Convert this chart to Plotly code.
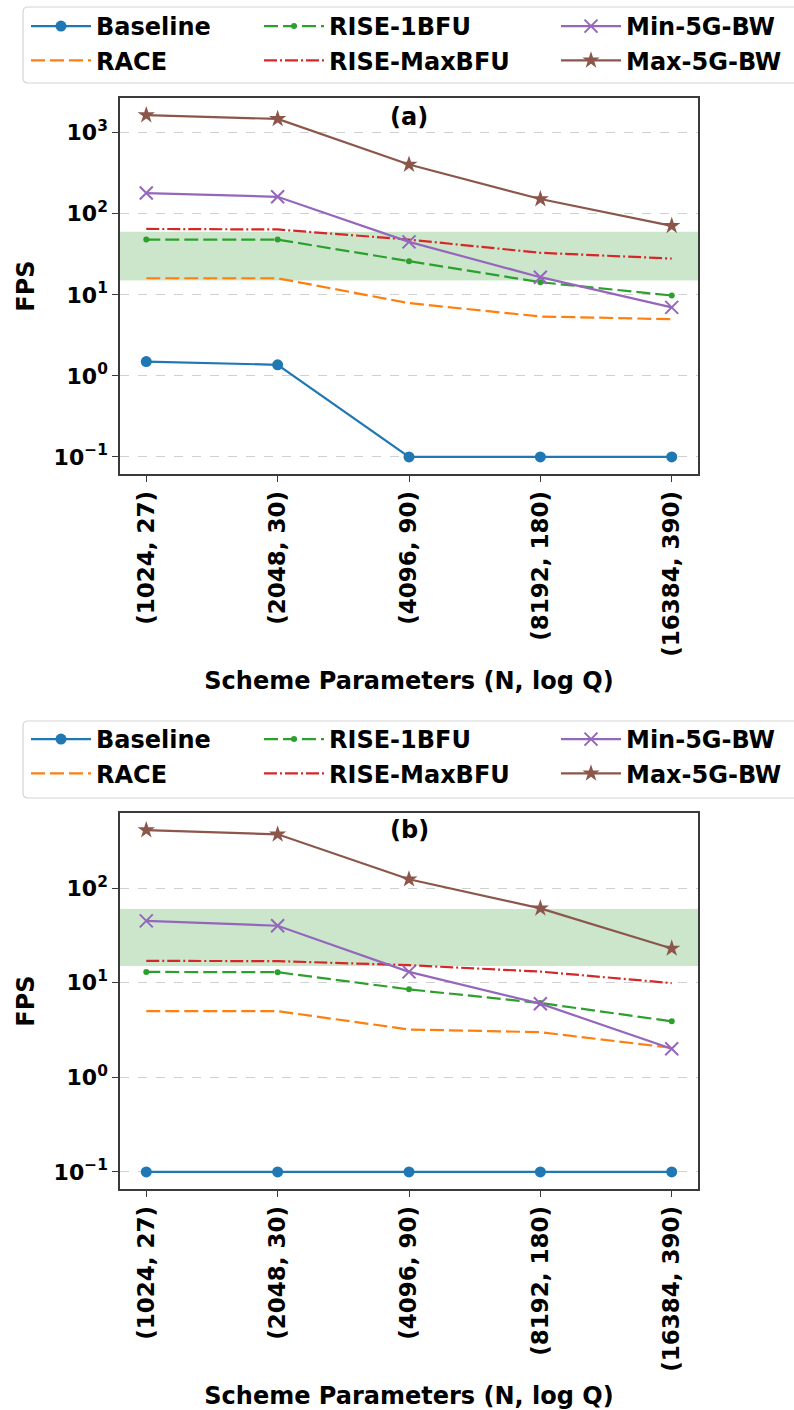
import numpy as np
import plotly.graph_objects as go

# ---- data -------------------------------------------------------------
params = ["(1024, 27)", "(2048, 30)", "(4096, 90)", "(8192, 180)", "(16384, 390)"]
series_names = ["Baseline", "RACE", "RISE-1BFU", "RISE-MaxBFU", "Min-5G-BW", "Max-5G-BW"]

# panel (a)
a_baseline = [1.5, 1.37, 0.1, 0.1, 0.1]
a_race = [16, 16, 7.9, 5.4, 5.0]
a_rise_1bfu = [48, 48, 26, 14.3, 9.8]
a_rise_maxbfu = [65, 64, 48, 33, 28]
a_min_5g = [180, 162, 45, 16.5, 7.0]
a_max_5g = [1650, 1480, 405, 152, 71]

# panel (b)
b_baseline = [0.1, 0.1, 0.1, 0.1, 0.1]
b_race = [5.0, 5.0, 3.2, 3.0, 2.05]
b_rise_1bfu = [13, 12.9, 8.5, 6.1, 3.9]
b_rise_maxbfu = [17, 16.9, 15.3, 13.1, 9.9]
b_min_5g = [45, 40, 13, 6.0, 2.0]
b_max_5g = [410, 370, 124, 61, 23]

# real-time FPS band
band_lo, band_hi = 15, 60

panels = [
    dict(tag="(a)", values=[a_baseline, a_race, a_rise_1bfu, a_rise_maxbfu, a_min_5g, a_max_5g]),
    dict(tag="(b)", values=[b_baseline, b_race, b_rise_1bfu, b_rise_maxbfu, b_min_5g, b_max_5g]),
]

# ---- styling ----------------------------------------------------------
W, H = 794, 1410
FONT = "DejaVu Sans"


def fx(px):
    return px / W


def fy(py):
    return 1 - py / H


styles = {
    "Baseline": dict(color="#1f77b4", dash="solid", symbol="circle", size=11),
    "RACE": dict(color="#ff7f0e", dash="14px,5px", symbol=None, size=0),
    "RISE-1BFU": dict(color="#2ca02c", dash="14px,5px", symbol="circle", size=6),
    "RISE-MaxBFU": dict(color="#d62728", dash="13px,3px,2px,3px", symbol=None, size=0),
    "Min-5G-BW": dict(color="#9467bd", dash="solid", symbol="x-thin", size=13),
    "Max-5G-BW": dict(color="#8c564b", dash="solid", symbol="star", size=13),
}

# legend column for each series (three columns of two)
legend_col = {"Baseline": 0, "RACE": 0, "RISE-1BFU": 1, "RISE-MaxBFU": 1,
              "Min-5G-BW": 2, "Max-5G-BW": 2}
legend_col_x = [26, 259, 556]

# pixel boxes of each panel: (top, bottom); shared left/right
ax_left, ax_right = 120, 698
panel_box = [(98, 474), (813, 1189)]
legend_top = [4, 717]
legend_frame = [(7, 83), (721, 798)]
title_y = [117, 830]

fig = go.Figure()
layout = dict(
    width=W, height=H,
    margin=dict(l=0, r=0, t=0, b=0),
    template="none",
    paper_bgcolor="white", plot_bgcolor="white",
    font=dict(family=FONT, color="black"),
    showlegend=True,
)

shapes = []
annotations = []


def rounded_rect(x0, y0, x1, y1, r):
    # closed path in paper units built from pixel corners
    p = [
        f"M {fx(x0 + r)},{fy(y0)}",
        f"L {fx(x1 - r)},{fy(y0)}",
        f"Q {fx(x1)},{fy(y0)} {fx(x1)},{fy(y0 + r)}",
        f"L {fx(x1)},{fy(y1 - r)}",
        f"Q {fx(x1)},{fy(y1)} {fx(x1 - r)},{fy(y1)}",
        f"L {fx(x0 + r)},{fy(y1)}",
        f"Q {fx(x0)},{fy(y1)} {fx(x0)},{fy(y1 - r)}",
        f"L {fx(x0)},{fy(y0 + r)}",
        f"Q {fx(x0)},{fy(y0)} {fx(x0 + r)},{fy(y0)}",
        "Z",
    ]
    return " ".join(p)


for pi, panel in enumerate(panels):
    sfx = "" if pi == 0 else str(pi + 1)
    xa, ya = "x" + sfx, "y" + sfx
    top, bottom = panel_box[pi]

    logs = np.log10(np.concatenate([np.asarray(v, float) for v in panel["values"]]))
    lo, hi = logs.min(), logs.max()
    pad = 0.05 * (hi - lo)
    yrange = [lo - pad, hi + pad]
    decades = [d for d in range(int(np.floor(yrange[0])), int(np.ceil(yrange[1])) + 1)
               if yrange[0] <= d <= yrange[1]]
    tickvals = [10.0 ** d for d in decades]
    ticktext = [f"10<sup>{str(d).replace('-', '−')}</sup>" for d in decades]

    for name, vals in zip(series_names, panel["values"]):
        st = styles[name]
        mode = "lines+markers" if st["symbol"] else "lines"
        marker = None
        if st["symbol"]:
            marker = dict(symbol=st["symbol"], size=st["size"], color=st["color"],
                          line=dict(color=st["color"], width=2 if st["symbol"] == "x-thin" else 0))
        idx = pi * 3 + legend_col[name]
        fig.add_trace(go.Scatter(
            x=params, y=vals, mode=mode, name=name,
            xaxis=xa, yaxis=ya,
            line=dict(color=st["color"], width=2.2, dash=st["dash"]),
            marker=marker,
            legend="legend" + ("" if idx == 0 else str(idx + 1)),
        ))

    common = dict(
        showline=True, mirror=True, linecolor="#3a3a3a", linewidth=1.5,
        ticks="outside", ticklen=6, tickwidth=1.2, tickcolor="#3a3a3a",
        zeroline=False,
    )
    layout["xaxis" + sfx] = dict(
        common, domain=[fx(ax_left), fx(ax_right)], anchor=ya,
        type="category", range=[-0.2, 4.2], showgrid=False,
        tickangle=-90, tickfont=dict(family=FONT, size=23, weight="bold"),
        title=dict(text="Scheme Parameters (N, log Q)", standoff=16,
                   font=dict(family=FONT, size=24, weight="bold")),
    )
    layout["yaxis" + sfx] = dict(
        common, domain=[fy(bottom), fy(top)], anchor=xa,
        type="log", range=yrange, tickvals=tickvals, ticktext=ticktext,
        showgrid=True, gridcolor="#d0d0d0", gridwidth=1, griddash="dash",
        tickfont=dict(family=FONT, size=22, weight="bold"),
        title=dict(text="FPS", standoff=12, font=dict(family=FONT, size=24, weight="bold")),
    )

    # target frame-rate band
    shapes.append(dict(type="rect", xref=xa + " domain", yref=ya, x0=0, x1=1,
                       y0=band_lo, y1=band_hi, fillcolor="rgba(0,128,0,0.2)",
                       line=dict(width=0), layer="below"))

    annotations.append(dict(text=f"<b>{panel['tag']}</b>", xref="paper", yref="paper",
                            x=fx((ax_left + ax_right) / 2), y=fy(title_y[pi]),
                            xanchor="center", yanchor="middle", showarrow=False,
                            font=dict(family=FONT, size=24, color="black")))

    # legend frame
    f0, f1 = legend_frame[pi]
    shapes.append(dict(type="path", xref="paper", yref="paper",
                       path=rounded_rect(23, f0, 806, f1, 5),
                       fillcolor="rgba(255,255,255,0.8)",
                       line=dict(color="#d4d4d4", width=1.2), layer="above"))

    for c in range(3):
        idx = pi * 3 + c
        key = "legend" + ("" if idx == 0 else str(idx + 1))
        layout[key] = dict(
            x=fx(legend_col_x[c]), y=fy(legend_top[pi]), xanchor="left", yanchor="top",
            xref="paper", yref="paper", orientation="v",
            bgcolor="rgba(0,0,0,0)", borderwidth=0, itemwidth=60,
            font=dict(family=FONT, size=24, weight="bold", color="black"),
            tracegroupgap=0, traceorder="normal",
        )

layout["shapes"] = shapes
layout["annotations"] = annotations
fig.update_layout(**layout)

fig.write_html("out.html")
